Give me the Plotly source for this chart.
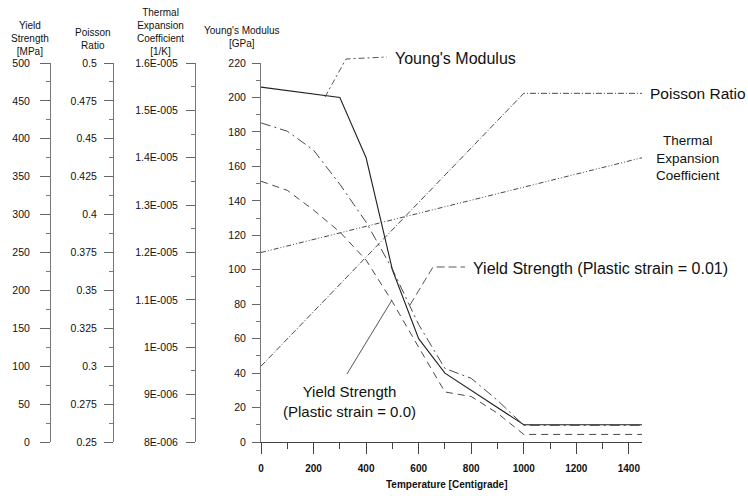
import plotly.graph_objects as go

W, H = 748, 496

# ---------------- data ----------------
temp_ym = [0, 300, 400, 500, 600, 700, 1000, 1450]
youngs_gpa = [206, 200, 165, 100, 60, 40, 10, 10]

temp_pr = [0, 1000, 1450]
poisson = [0.30, 0.48, 0.48]

temp_te = [0, 1450]
thermal = [1.2e-5, 1.4e-5]

temp_ys = [0, 100, 200, 300, 400, 500, 600, 700, 800, 900, 1000, 1450]
ys_001 = [421, 410, 385, 340, 290, 228, 155, 97, 84, 55, 22, 22]
ys_000 = [344, 332, 306, 277, 240, 185, 125, 66, 60, 38, 10, 10]

x_ticks = [0, 200, 400, 600, 800, 1000, 1200, 1400]
ym_ticks = list(range(0, 221, 20))
ys_ticks = list(range(0, 501, 50))
pr_ticks = [0.25, 0.275, 0.3, 0.325, 0.35, 0.375, 0.4, 0.425, 0.45, 0.475, 0.5]
pr_text = ["0.25", "0.275", "0.3", "0.325", "0.35", "0.375", "0.4", "0.425", "0.45", "0.475", "0.5"]
te_ticks = [8e-6, 9e-6, 1e-5, 1.1e-5, 1.2e-5, 1.3e-5, 1.4e-5, 1.5e-5, 1.6e-5]
te_text = ["8E-006", "9E-006", "1E-005", "1.1E-005", "1.2E-005", "1.3E-005",
           "1.4E-005", "1.5E-005", "1.6E-005"]

# ---------------- helpers ----------------
def px(x):
    return x / W

def py(y):
    return 1 - y / H

FONT = "Liberation Sans, Arial, sans-serif"
LC = "#333333"

fig = go.Figure()
fig.add_trace(go.Scatter(x=temp_ym, y=youngs_gpa, mode="lines", yaxis="y",
                         line=dict(color="#222222", width=1.1), name="Young's Modulus"))
fig.add_trace(go.Scatter(x=temp_pr, y=poisson, mode="lines", yaxis="y3",
                         line=dict(color=LC, width=0.9, dash="6px,2px,1px,2px"), name="Poisson Ratio"))
fig.add_trace(go.Scatter(x=temp_te, y=thermal, mode="lines", yaxis="y2",
                         line=dict(color=LC, width=0.9, dash="5px,2px,1px,2px,1px,2px"),
                         name="Thermal Expansion Coefficient"))
fig.add_trace(go.Scatter(x=temp_ys, y=ys_001, mode="lines", yaxis="y4",
                         line=dict(color=LC, width=0.9, dash="10px,4px,2px,4px"),
                         name="Yield Strength 0.01"))
fig.add_trace(go.Scatter(x=temp_ys, y=ys_000, mode="lines", yaxis="y4",
                         line=dict(color=LC, width=0.9, dash="7px,5px"),
                         name="Yield Strength 0.0"))

ydom = [py(442), py(63)]
tickfont = dict(family=FONT, size=10.5, color="#111111")
common_y = dict(showgrid=False, zeroline=False, showline=True, linecolor="#777777",
                linewidth=1, ticks="outside", tickcolor="#666666", tickfont=tickfont,
                automargin=False, fixedrange=True)

fig.update_layout(
    width=W, height=H,
    margin=dict(l=0, r=0, t=0, b=0),
    paper_bgcolor="white", plot_bgcolor="white",
    showlegend=False,
    font=dict(family=FONT, size=10.5, color="#111111"),
    xaxis=dict(domain=[px(261), px(642)], range=[0, 1450], tickmode="array",
               tickvals=x_ticks, ticks="outside", ticklen=11, tickcolor="#444444",
               minor=dict(dtick=100, tick0=0, ticklen=6, ticks="outside", tickcolor="#444444"),
               showline=True, linecolor="#444444", linewidth=1, showgrid=False,
               zeroline=False, anchor="y", automargin=False, ticklabelstandoff=6,
               fixedrange=True,
               tickfont=dict(family=FONT, size=10, color="#111111", weight="bold")),
    yaxis=dict(domain=ydom, range=[0, 220], tickmode="array", tickvals=ym_ticks,
               ticklen=8, minor=dict(dtick=10, tick0=0, ticklen=4, ticks="outside",
                                     tickcolor="#777777"),
               anchor="x", ticklabelstandoff=4, **common_y),
    yaxis2=dict(domain=ydom, range=[8e-6, 1.6e-5], tickmode="array", tickvals=te_ticks,
                ticktext=te_text, ticklen=9,
                minor=dict(dtick=5e-7, tick0=8e-6, ticklen=4, ticks="outside",
                           tickcolor="#777777"),
                overlaying="y", anchor="free", position=px(195), side="left",
                ticklabelstandoff=6, **common_y),
    yaxis3=dict(domain=ydom, range=[0.25, 0.5], tickmode="array", tickvals=pr_ticks,
                ticktext=pr_text, ticklen=9,
                minor=dict(dtick=0.0125, tick0=0.25, ticklen=4, ticks="outside",
                           tickcolor="#777777"),
                overlaying="y", anchor="free", position=px(113), side="left",
                ticklabelstandoff=5, **common_y),
    yaxis4=dict(domain=ydom, range=[0, 500], tickmode="array", tickvals=ys_ticks,
                ticklen=10,
                minor=dict(dtick=25, tick0=0, ticklen=4, ticks="outside",
                           tickcolor="#777777"),
                overlaying="y", anchor="free", position=px(50), side="left",
                ticklabelstandoff=8, **common_y),
)

# ---------------- axis titles ----------------
def ann(text, x, y, size=10.5, xanchor="center", yanchor="middle", align="center", weight="normal"):
    fig.add_annotation(text=text, x=px(x), y=py(y), xref="paper", yref="paper",
                       showarrow=False, xanchor=xanchor, yanchor=yanchor, align=align,
                       font=dict(family=FONT, size=size, color="#111111", weight=weight))

ann("Yield<br>Strength<br>[MPa]", 30, 39, size=10)
ann("Poisson<br>Ratio", 93, 38.5, size=10)
ann("Thermal<br>Expansion<br>Coefficient<br>[1/K]", 160, 32, size=10)
ann("Young's Modulus<br>[GPa]", 241, 37.5, size=10)
ann("Temperature [Centigrade]", 447, 484, size=10, weight="bold")

# ---------------- curve labels ----------------
ann("Young's Modulus", 393, 58, size=16, xanchor="left")
ann("Poisson Ratio", 648, 93, size=15.5, xanchor="left")
ann("Thermal<br>Expansion<br>Coefficient", 688, 158, size=13.5)
ann("Yield Strength (Plastic strain = 0.01)", 471, 268, size=16, xanchor="left")
ann("Yield Strength<br>(Plastic strain = 0.0)", 349, 401, size=15)

# ---------------- leader lines ----------------
def leader(points, dash):
    path = "M " + " L ".join(f"{px(a):.5f},{py(b):.5f}" for a, b in points)
    fig.add_shape(type="path", path=path, xref="paper", yref="paper",
                  line=dict(color="#444444", width=0.9, dash=dash))

leader([(325, 97), (346, 59), (387, 57)], "6px,3px,2px,3px")
leader([(410, 305), (433, 267), (465, 267)], "8px,4px")
leader([(347, 374), (392, 300)], "solid")

fig.write_html("out.html", config={"displayModeBar": False, "staticPlot": True},
               post_script="document.body.style.margin='0';document.body.style.overflow='hidden';")
